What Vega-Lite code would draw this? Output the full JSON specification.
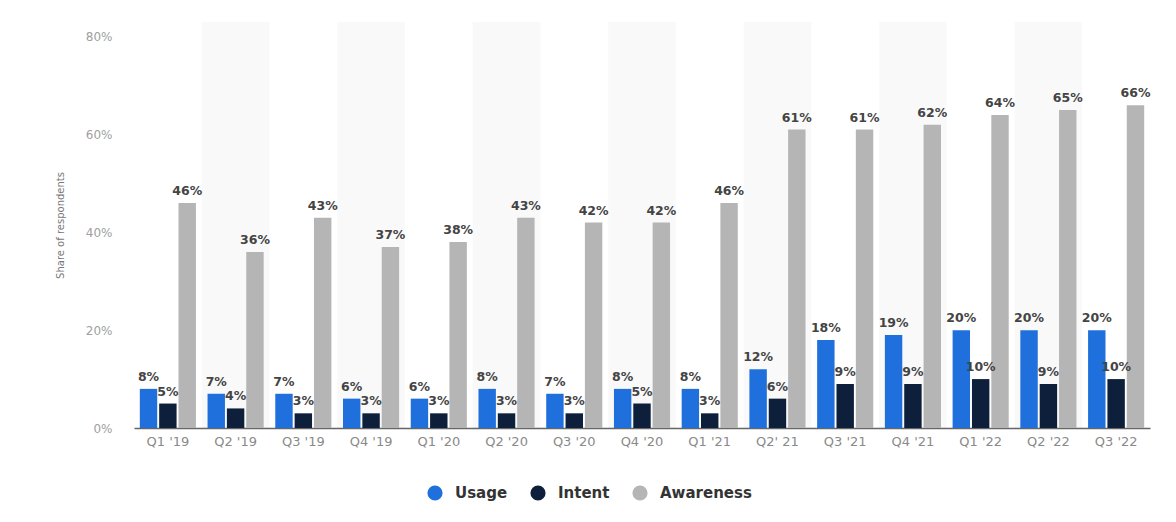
{
  "$schema": "https://vega.github.io/schema/vega-lite/v6.json",
  "autosize": "none",
  "width": 1016,
  "height": 406,
  "padding": {"left": 134, "top": 22, "right": 26, "bottom": 94},
  "background": "white",
  "config": {
    "view": {"stroke": null},
    "font": "DejaVu Sans"
  },
  "data": {
    "values": [
      {"quarter": "Q1 '19", "series": "Usage", "value": 0.08},
      {"quarter": "Q1 '19", "series": "Intent", "value": 0.05},
      {"quarter": "Q1 '19", "series": "Awareness", "value": 0.46},
      {"quarter": "Q2 '19", "series": "Usage", "value": 0.07},
      {"quarter": "Q2 '19", "series": "Intent", "value": 0.04},
      {"quarter": "Q2 '19", "series": "Awareness", "value": 0.36},
      {"quarter": "Q3 '19", "series": "Usage", "value": 0.07},
      {"quarter": "Q3 '19", "series": "Intent", "value": 0.03},
      {"quarter": "Q3 '19", "series": "Awareness", "value": 0.43},
      {"quarter": "Q4 '19", "series": "Usage", "value": 0.06},
      {"quarter": "Q4 '19", "series": "Intent", "value": 0.03},
      {"quarter": "Q4 '19", "series": "Awareness", "value": 0.37},
      {"quarter": "Q1 '20", "series": "Usage", "value": 0.06},
      {"quarter": "Q1 '20", "series": "Intent", "value": 0.03},
      {"quarter": "Q1 '20", "series": "Awareness", "value": 0.38},
      {"quarter": "Q2 '20", "series": "Usage", "value": 0.08},
      {"quarter": "Q2 '20", "series": "Intent", "value": 0.03},
      {"quarter": "Q2 '20", "series": "Awareness", "value": 0.43},
      {"quarter": "Q3 '20", "series": "Usage", "value": 0.07},
      {"quarter": "Q3 '20", "series": "Intent", "value": 0.03},
      {"quarter": "Q3 '20", "series": "Awareness", "value": 0.42},
      {"quarter": "Q4 '20", "series": "Usage", "value": 0.08},
      {"quarter": "Q4 '20", "series": "Intent", "value": 0.05},
      {"quarter": "Q4 '20", "series": "Awareness", "value": 0.42},
      {"quarter": "Q1 '21", "series": "Usage", "value": 0.08},
      {"quarter": "Q1 '21", "series": "Intent", "value": 0.03},
      {"quarter": "Q1 '21", "series": "Awareness", "value": 0.46},
      {"quarter": "Q2' 21", "series": "Usage", "value": 0.12},
      {"quarter": "Q2' 21", "series": "Intent", "value": 0.06},
      {"quarter": "Q2' 21", "series": "Awareness", "value": 0.61},
      {"quarter": "Q3 '21", "series": "Usage", "value": 0.18},
      {"quarter": "Q3 '21", "series": "Intent", "value": 0.09},
      {"quarter": "Q3 '21", "series": "Awareness", "value": 0.61},
      {"quarter": "Q4 '21", "series": "Usage", "value": 0.19},
      {"quarter": "Q4 '21", "series": "Intent", "value": 0.09},
      {"quarter": "Q4 '21", "series": "Awareness", "value": 0.62},
      {"quarter": "Q1 '22", "series": "Usage", "value": 0.20},
      {"quarter": "Q1 '22", "series": "Intent", "value": 0.10},
      {"quarter": "Q1 '22", "series": "Awareness", "value": 0.64},
      {"quarter": "Q2 '22", "series": "Usage", "value": 0.20},
      {"quarter": "Q2 '22", "series": "Intent", "value": 0.09},
      {"quarter": "Q2 '22", "series": "Awareness", "value": 0.65},
      {"quarter": "Q3 '22", "series": "Usage", "value": 0.20},
      {"quarter": "Q3 '22", "series": "Intent", "value": 0.10},
      {"quarter": "Q3 '22", "series": "Awareness", "value": 0.66}
    ]
  },
  "encoding": {
    "x": {
      "field": "quarter",
      "type": "nominal",
      "sort": null,
      "scale": {
        "domain": ["Q1 '19", "Q2 '19", "Q3 '19", "Q4 '19", "Q1 '20", "Q2 '20", "Q3 '20", "Q4 '20", "Q1 '21", "Q2' 21", "Q3 '21", "Q4 '21", "Q1 '22", "Q2 '22", "Q3 '22"],
        "paddingInner": 0,
        "paddingOuter": 0
      },
      "axis": {
        "title": null,
        "labelAngle": 0,
        "ticks": false,
        "labelPadding": 7,
        "labelColor": "#8a8a8a",
        "labelFontSize": 13,
        "domainColor": "#666666",
        "domainWidth": 1.5
      }
    }
  },
  "layer": [
    {
      "transform": [
        {"filter": "datum.series === 'Usage'"},
        {"window": [{"op": "row_number", "as": "idx"}]},
        {"filter": "datum.idx % 2 === 0"}
      ],
      "mark": {"type": "bar", "fill": "#000000", "opacity": 0.022},
      "encoding": {
        "y": {"datum": 0.83, "type": "quantitative"},
        "y2": {"datum": 0}
      }
    },
    {
      "mark": {"type": "bar"},
      "encoding": {
        "xOffset": {
          "field": "series",
          "type": "nominal",
          "sort": ["Usage", "Intent", "Awareness"],
          "scale": {"paddingInner": 0.1, "paddingOuter": 0.3}
        },
        "y": {
          "field": "value",
          "type": "quantitative",
          "scale": {"domain": [0, 0.83], "nice": false},
          "axis": {
            "title": "Share of respondents",
            "values": [0, 0.2, 0.4, 0.6, 0.8],
            "format": ".0%",
            "ticks": false,
            "domain": false,
            "labelPadding": 22,
            "labelColor": "#a0a0a0",
            "labelFontSize": 12,
            "titleColor": "#777777",
            "titleFontSize": 10,
            "titleFontWeight": "normal",
            "titlePadding": 20,
            "gridColor": "#ebebeb"
          }
        },
        "color": {
          "field": "series",
          "type": "nominal",
          "scale": {
            "domain": ["Usage", "Intent", "Awareness"],
            "range": ["#1f70dc", "#0d1f3a", "#b5b5b5"]
          },
          "legend": {
            "title": null,
            "orient": "none",
            "legendX": 293,
            "legendY": 463,
            "direction": "horizontal",
            "symbolType": "circle",
            "symbolSize": 230,
            "symbolStrokeWidth": 0,
            "labelFontSize": 15,
            "labelColor": "#333333",
            "labelFontWeight": "bold",
            "labelOffset": 12,
            "columnPadding": 22
          }
        }
      }
    },
    {
      "mark": {
        "type": "text",
        "baseline": "bottom",
        "dy": -5,
        "fontSize": 12.5,
        "fontWeight": "bold",
        "color": "#444444"
      },
      "encoding": {
        "xOffset": {
          "field": "series",
          "type": "nominal",
          "sort": ["Usage", "Intent", "Awareness"]
        },
        "y": {"field": "value", "type": "quantitative"},
        "text": {"field": "value", "type": "quantitative", "format": ".0%"}
      }
    }
  ]
}
